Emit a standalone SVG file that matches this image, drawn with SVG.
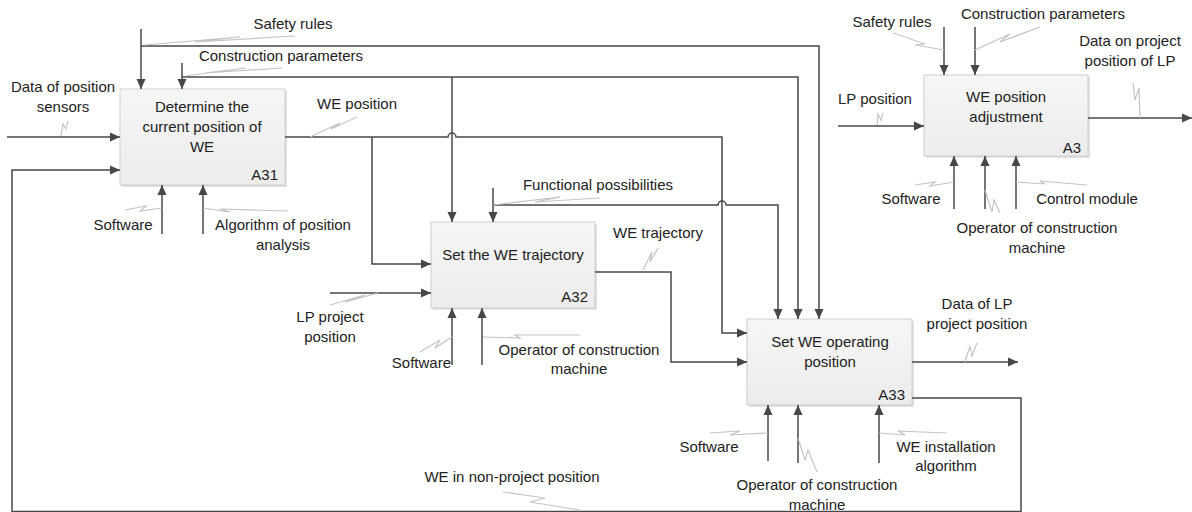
<svg xmlns="http://www.w3.org/2000/svg" width="1192" height="512" viewBox="0 0 1192 512">
<style>
.t{font-family:"Liberation Sans",Arial,sans-serif;font-size:15px;fill:#222;text-anchor:middle}
.e{text-anchor:end}
.s{text-anchor:start}
.c{fill:none;stroke:#474747;stroke-width:1.5}
.a{marker-end:url(#ah)}
.q{fill:none;stroke:#c4c4c4;stroke-width:1.2}
.box{fill:url(#g);stroke:#cdcdcd;stroke-width:1}
.sh{fill:#e0e0e0}
</style>
<defs>
<linearGradient id="g" x1="0" y1="0" x2="0" y2="1">
<stop offset="0" stop-color="#f6f6f6"/>
<stop offset="1" stop-color="#ececec"/>
</linearGradient>
<marker id="ah" markerUnits="userSpaceOnUse" markerWidth="10" markerHeight="10" refX="10" refY="5" orient="auto">
<path d="M0,0.5 L10,5 L0,9.5 z" fill="#474747"/>
</marker>
</defs>

<g id="A31">
<rect class="sh" x="122" y="91" width="165" height="96"/>
<rect class="box" x="120" y="89" width="165" height="96"/>
<text class="t" x="202" y="112">Determine the</text>
<text class="t" x="202" y="132">current position of</text>
<text class="t" x="202" y="152">WE</text>
<text class="t e" x="278" y="180">A31</text>
</g>

<g id="A32">
<rect class="sh" x="433" y="224" width="164" height="86"/>
<rect class="box" x="431" y="222" width="164" height="86"/>
<text class="t" x="513" y="260">Set the WE trajectory</text>
<text class="t e" x="588" y="302">A32</text>
</g>

<g id="A33">
<rect class="sh" x="749" y="321" width="165" height="86"/>
<rect class="box" x="747" y="319" width="165" height="86"/>
<text class="t" x="830" y="347">Set WE operating</text>
<text class="t" x="830" y="367">position</text>
<text class="t e" x="905" y="400">A33</text>
</g>

<g id="A3">
<rect class="sh" x="926" y="77" width="164" height="81"/>
<rect class="box" x="924" y="75" width="164" height="81"/>
<text class="t" x="1006" y="102">WE position</text>
<text class="t" x="1006" y="122">adjustment</text>
<text class="t e" x="1081" y="153">A3</text>
</g>

<g id="connectors">
<path class="c a" d="M141,29 V89"/>
<path class="c a" d="M141,46 H819 V319"/>
<path class="c a" d="M182,63 V89"/>
<path class="c a" d="M182,77 H798 V319"/>
<path class="c a" d="M452,77 V222"/>
<path class="c a" d="M7,137 H120"/>
<path class="c a" d="M912,398 H1021 V511.5 H12 V170 H120"/>
<path class="c a" d="M285,137 H448 A4,4 0 0 1 456,137 H722 V333 H747"/>
<path class="c a" d="M372,137 V264 H431"/>
<path class="c a" d="M493,188 V222"/>
<path class="c a" d="M493,205 H718 A4,4 0 0 1 726,205 H778 V319"/>
<path class="c a" d="M595,272 H671 V362 H747"/>
<path class="c a" d="M330,293 H431"/>
<path class="c a" d="M162,234 V185"/>
<path class="c a" d="M203,234 V185"/>
<path class="c a" d="M452,365 V308"/>
<path class="c a" d="M482,365 V308"/>
<path class="c a" d="M912,362 H1018"/>
<path class="c a" d="M768,461 V405"/>
<path class="c a" d="M798,463 V405"/>
<path class="c a" d="M879,463 V405"/>
<path class="c a" d="M944,27 V75"/>
<path class="c a" d="M975,27 V75"/>
<path class="c a" d="M838,126 H924"/>
<path class="c a" d="M1088,118 H1192"/>
<path class="c a" d="M954,209 V156"/>
<path class="c a" d="M985,209 V156"/>
<path class="c a" d="M1016,209 V156"/>

<polyline class="q" points="144,45 240,37 195,42 295,36"/>
<polyline class="q" points="185,76 245,68 205,73 282,68"/>
<polyline class="q" points="61,136 63,124 66,129 68,121"/>
<polyline class="q" points="310,137 340,123 331,129 357,117"/>
<polyline class="q" points="125,210 146,206 140,211 162,208"/>
<polyline class="q" points="203,208 230,212 220,209 288,211"/>
<polyline class="q" points="493,205 560,197 535,202 600,198"/>
<polyline class="q" points="643,270 652,252 650,262 658,248"/>
<polyline class="q" points="330,305 365,295 345,302 378,293"/>
<polyline class="q" points="420,352 440,340 435,348 452,337"/>
<polyline class="q" points="483,337 520,338 515,335 580,335"/>
<polyline class="q" points="965,362 970,346 972,356 977,343"/>
<polyline class="q" points="710,433 740,431 730,435 768,433"/>
<polyline class="q" points="798,438 805,460 808,450 817,472"/>
<polyline class="q" points="879,433 905,435 898,431 947,433"/>
<polyline class="q" points="503,492 545,498 530,502 580,510"/>
<polyline class="q" points="893,33 925,44 915,45 944,50"/>
<polyline class="q" points="975,50 1010,34 1000,42 1040,27"/>
<polyline class="q" points="1140,118 1139,88 1135,100 1133,83"/>
<polyline class="q" points="877,125 878,114 881,120 883,113"/>
<polyline class="q" points="915,185 935,182 930,186 954,182"/>
<polyline class="q" points="985,190 992,212 994,200 1000,213"/>
<polyline class="q" points="1016,182 1045,184 1040,181 1087,185"/>
</g>

<g id="labels">
<text class="t" x="293" y="29">Safety rules</text>
<text class="t" x="281" y="61">Construction parameters</text>
<text class="t" x="63" y="92">Data of position</text>
<text class="t" x="63" y="112">sensors</text>
<text class="t" x="357" y="109">WE position</text>
<text class="t" x="123" y="230">Software</text>
<text class="t" x="283" y="230">Algorithm of position</text>
<text class="t" x="283" y="250">analysis</text>
<text class="t" x="598" y="190">Functional possibilities</text>
<text class="t" x="658" y="238">WE trajectory</text>
<text class="t" x="330" y="322">LP project</text>
<text class="t" x="330" y="342">position</text>
<text class="t e" x="451" y="368">Software</text>
<text class="t" x="579" y="355">Operator of construction</text>
<text class="t" x="579" y="374">machine</text>
<text class="t" x="977" y="309">Data of LP</text>
<text class="t" x="977" y="329">project position</text>
<text class="t" x="709" y="452">Software</text>
<text class="t" x="817" y="490">Operator of construction</text>
<text class="t" x="817" y="510">machine</text>
<text class="t" x="946" y="452">WE installation</text>
<text class="t" x="946" y="471">algorithm</text>
<text class="t" x="512" y="482">WE in non-project position</text>
<text class="t" x="892" y="27">Safety rules</text>
<text class="t" x="1043" y="19">Construction parameters</text>
<text class="t" x="1130" y="46">Data on project</text>
<text class="t" x="1130" y="66">position of LP</text>
<text class="t" x="875" y="104">LP position</text>
<text class="t" x="911" y="204">Software</text>
<text class="t" x="1087" y="204">Control module</text>
<text class="t" x="1037" y="233">Operator of construction</text>
<text class="t" x="1037" y="253">machine</text>
</g>
</svg>
